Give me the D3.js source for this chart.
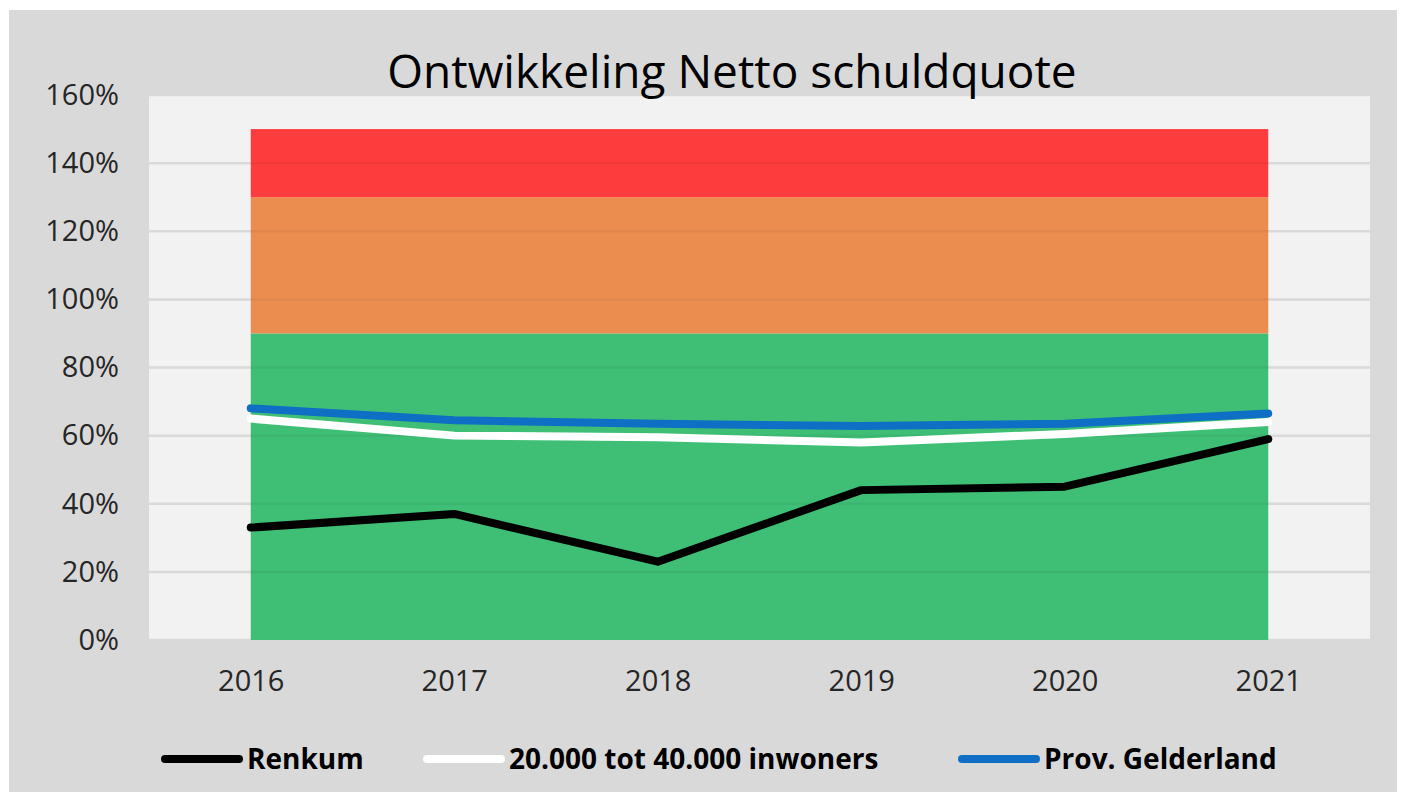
<!DOCTYPE html>
<html>
<head>
<meta charset="utf-8">
<script src="https://cdn.jsdelivr.net/npm/d3@7"></script>
<style>
  body { margin: 0; background: #fff; }
  text { font-family: "Open Sans", "Noto Sans", sans-serif; }
</style>
</head>
<body>
<script>
// chart data
var years = ["2016", "2017", "2018", "2019", "2020", "2021"];
var renkum = [33, 37, 23, 44, 45, 59];
var inwoners = [65, 60, 59.5, 58, 60.5, 64];
var gelderland = [68, 64.5, 63.5, 62.8, 63.5, 66.5];
var yTicks = [0, 20, 40, 60, 80, 100, 120, 140, 160];
// norm bands: [from, to]
var bandLow = [0, 90];
var bandMid = [90, 130];
var bandHigh = [130, 150];

var width = 1406, height = 802;
var plot = { left: 149, right: 1370, top: 95, bottom: 640 };

var svg = d3.select("body").append("svg")
            .attr("width", width)
            .attr("height", height);

// outer chart background
svg.append("rect")
   .attr("x", 9).attr("y", 10)
   .attr("width", 1388).attr("height", 782)
   .attr("fill", "#d9d9d9");

// plot area
svg.append("rect")
   .attr("x", plot.left).attr("y", plot.top)
   .attr("width", plot.right - plot.left).attr("height", plot.bottom - plot.top)
   .attr("fill", "#f2f2f2");

var x = d3.scalePoint()
          .domain(years)
          .range([plot.left, plot.right])
          .padding(0.5);

var y = d3.scaleLinear()
          .domain([0, 160])
          .range([plot.bottom, plot.top]);

// gridlines
svg.append("g")
   .selectAll("line")
   .data(yTicks)
   .enter().append("line")
   .attr("x1", plot.left).attr("x2", plot.right)
   .attr("y1", function(d) { return y(d); })
   .attr("y2", function(d) { return y(d); })
   .attr("stroke", "#d9d9d9")
   .attr("stroke-width", 2.5);

// coloured bands between first and last year
var bands = [
  { r: bandLow, color: "#3fbf76" },
  { r: bandMid, color: "#ec8d50" },
  { r: bandHigh, color: "#fd3c3d" }
];
svg.append("g")
   .selectAll("rect")
   .data(bands)
   .enter().append("rect")
   .attr("x", x(years[0]))
   .attr("width", x(years[years.length - 1]) - x(years[0]))
   .attr("y", function(d) { return y(d.r[1]); })
   .attr("height", function(d) { return y(d.r[0]) - y(d.r[1]); })
   .attr("fill", function(d) { return d.color; });

// faint gridlines through the bands
svg.append("g")
   .selectAll("line")
   .data(yTicks.filter(function(d) { return d > 0 && d < 150; }))
   .enter().append("line")
   .attr("x1", x(years[0])).attr("x2", x(years[years.length - 1]))
   .attr("y1", function(d) { return y(d); })
   .attr("y2", function(d) { return y(d); })
   .attr("stroke", "#000")
   .attr("stroke-opacity", 0.05)
   .attr("stroke-width", 2.5);

// y axis labels
var yAxis = d3.axisLeft(y)
              .tickValues(yTicks)
              .tickFormat(function(d) { return d + "%"; })
              .tickSize(0)
              .tickPadding(0);
var gy = svg.append("g")
            .attr("transform", "translate(119,0)")
            .call(yAxis);
gy.select(".domain").remove();
gy.selectAll("text")
  .attr("font-size", 29)
  .attr("fill", "#262626")
  .style("font-family", "'Open Sans', sans-serif");

// x axis labels
var xAxis = d3.axisBottom(x).tickSize(0).tickPadding(0);
var gx = svg.append("g")
            .attr("transform", "translate(0,670)")
            .call(xAxis);
gx.select(".domain").remove();
gx.selectAll("text")
  .attr("font-size", 29)
  .attr("fill", "#262626")
  .style("font-family", "'Open Sans', sans-serif");

// lines
var series = [
  { name: "20.000 tot 40.000 inwoners", values: inwoners, color: "#ffffff" },
  { name: "Prov. Gelderland", values: gelderland, color: "#0e6fc4" },
  { name: "Renkum", values: renkum, color: "#000000" }
];
var line = d3.line()
             .x(function(d, i) { return x(years[i]); })
             .y(function(d) { return y(d); });

svg.append("g")
   .selectAll("path")
   .data(series)
   .enter().append("path")
   .attr("d", function(d) { return line(d.values); })
   .attr("fill", "none")
   .attr("stroke", function(d) { return d.color; })
   .attr("stroke-width", 8)
   .attr("stroke-linecap", "round")
   .attr("stroke-linejoin", "round");

// title
svg.append("text")
   .attr("x", 732).attr("y", 88)
   .attr("text-anchor", "middle")
   .attr("font-size", 46)
   .attr("fill", "#000")
   .text("Ontwikkeling Netto schuldquote");

// legend
var legendItems = [
  { name: "Renkum", color: "#000000", x: 165 },
  { name: "20.000 tot 40.000 inwoners", color: "#ffffff", x: 427 },
  { name: "Prov. Gelderland", color: "#0e6fc4", x: 962 }
];
var legend = svg.selectAll("g.legend")
                .data(legendItems)
                .enter().append("g")
                .attr("class", "legend")
                .attr("transform", function(d) { return "translate(" + d.x + ",759)"; });
legend.append("line")
      .attr("x1", 0).attr("x2", 74)
      .attr("y1", 0).attr("y2", 0)
      .attr("stroke", function(d) { return d.color; })
      .attr("stroke-width", 8)
      .attr("stroke-linecap", "round");
legend.append("text")
      .attr("x", 82).attr("y", 10)
      .attr("font-size", 28)
      .attr("font-weight", "bold")
      .attr("fill", "#000")
      .text(function(d) { return d.name; });
</script>
</body>
</html>
